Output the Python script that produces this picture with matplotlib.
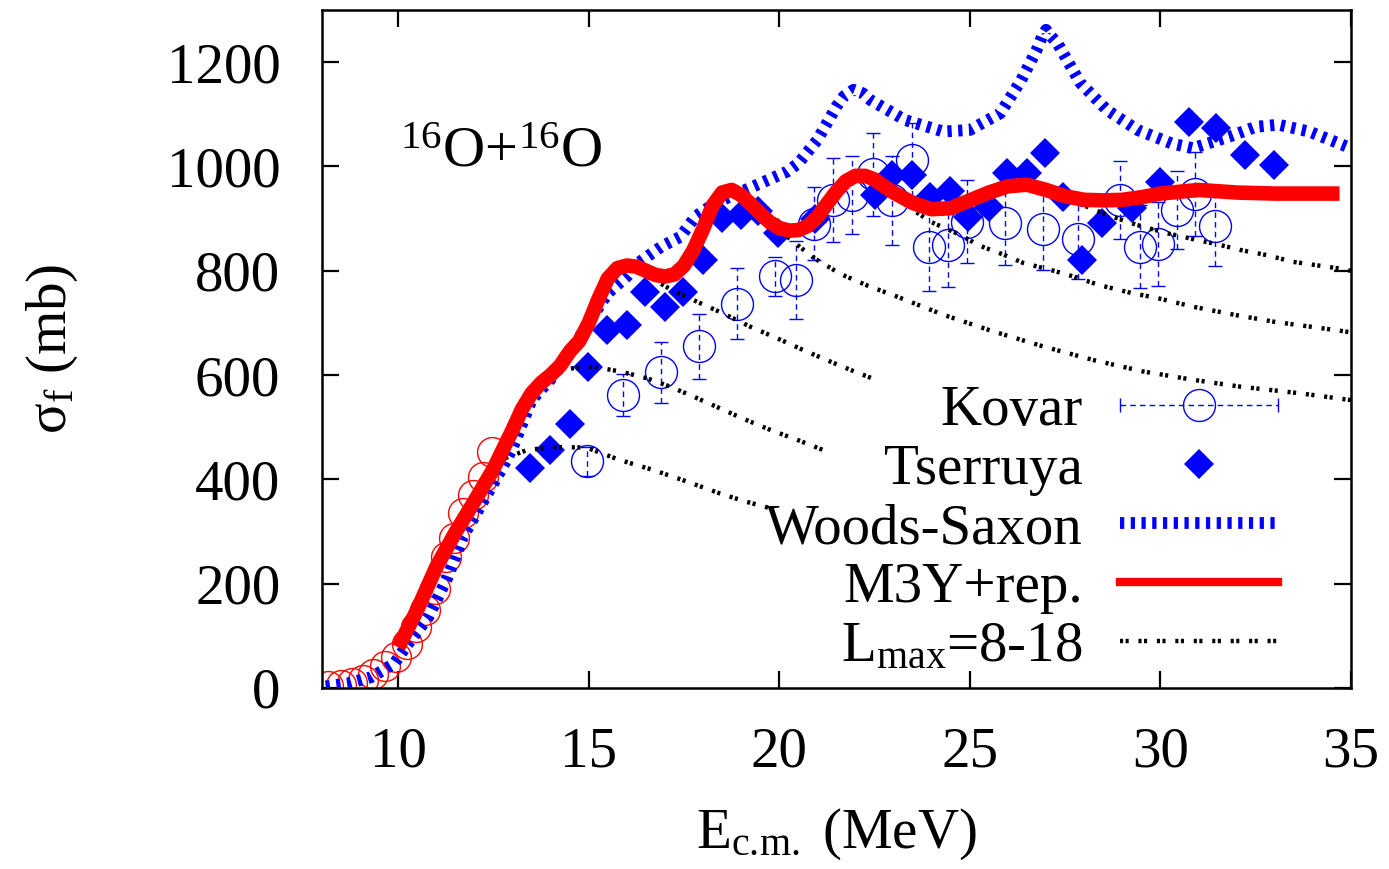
import numpy as np
import matplotlib
matplotlib.use('Agg')
import matplotlib.pyplot as plt
from matplotlib.lines import Line2D
from matplotlib.legend_handler import HandlerLine2D, HandlerTuple

plt.rcParams['font.family'] = ['Liberation Serif', 'DejaVu Serif']
plt.rcParams['mathtext.fontset'] = 'custom'
plt.rcParams['mathtext.rm'] = 'Liberation Serif'
plt.rcParams['mathtext.it'] = 'Liberation Serif:italic'

# --- low energy data (red open circles) ---
low_x = [8.15, 8.5, 8.8, 9.08, 9.35, 9.65, 9.95, 10.22, 10.48, 10.7, 10.96,
         11.25, 11.47, 11.71, 11.96, 12.22, 12.47]
low_y = [3, 6, 10, 15, 26, 42, 60, 85, 117, 149, 190, 252, 287, 336, 370, 405, 452]

# --- Kovar (open blue circles with errors) ---
kovar_x = [14.95, 15.9, 16.9, 17.9, 18.9, 19.9, 20.45, 20.9, 21.4, 21.9, 22.45,
           22.95, 23.47, 23.94, 24.44, 24.92, 25.92, 26.93, 27.85, 28.94, 29.47,
           29.95, 30.43, 30.91, 31.44]
kovar_y = [435, 562, 605, 655, 737, 789, 782, 890, 936, 945, 985,
           935, 1013, 846, 849, 894, 891, 881, 860, 936, 846,
           851, 917, 947, 885]
kovar_err = [28, 40, 58, 62, 68, 38, 75, 70, 80, 75, 80,
             85, 70, 85, 80, 80, 80, 80, 75, 75, 80,
             80, 75, 80, 75]

# --- Tserruya (filled diamonds) ---
tser_x = [13.46, 13.98, 14.51, 14.99, 15.47, 16.0, 16.48, 17.0, 17.48, 18.0,
          18.5, 19.0, 19.45, 19.97, 20.94, 22.5, 22.97, 23.47, 23.96, 24.48,
          24.96, 25.49, 25.97, 26.49, 26.97, 27.45, 27.94, 28.46, 29.25, 30.0,
          30.74, 31.46, 32.22, 32.97]
tser_y = [421, 456, 507, 616, 686, 696, 760, 731, 760, 821,
          901, 907, 914, 872, 900, 945, 983, 984, 942, 952,
          904, 923, 987, 987, 1025, 942, 821, 891, 920, 971,
          1086, 1073, 1022, 1003]

# --- Woods-Saxon ---
ws_x = [8.1, 8.7, 9.3, 9.9, 10.2, 10.8, 11.3, 11.7, 12.3, 12.7, 13.0, 13.5, 14.0,
        14.6, 15.1, 15.5, 16.0, 16.3, 16.9, 17.4, 17.8, 18.3, 19.3, 20.2, 20.5,
        21.0, 21.5, 21.7, 21.95, 22.2, 22.4, 23.3, 24.3, 25.0, 25.8, 26.35, 26.75,
        26.9, 27.0, 27.1, 27.3, 27.9, 28.6, 29.4, 30.3, 30.85, 31.8, 32.5, 33.1,
        33.9, 35.0]
ws_y = [3, 9, 21, 47, 79, 137, 213, 290, 367, 418, 460, 552, 592,
        654, 712, 757, 789, 815, 846, 865, 904, 929, 961, 990, 1006,
        1051, 1115, 1135, 1147, 1140, 1127, 1089, 1067, 1070, 1102, 1166, 1223,
        1250, 1262, 1252, 1236, 1160, 1108, 1070, 1044, 1035, 1057, 1076, 1080,
        1067, 1035]

# --- M3Y+rep. ---
m3y_x = [10.0, 10.5, 11.0, 11.5, 12.0, 12.5, 13.0, 13.25, 13.5, 13.75, 14.0, 14.25,
         14.5, 14.75, 15.0, 15.25, 15.5, 15.75, 16.0, 16.25, 16.5, 16.75, 17.0,
         17.25, 17.5, 17.75, 18.0, 18.25, 18.5, 18.75, 19.0, 19.25, 19.5, 19.75,
         20.0, 20.25, 20.5, 20.75, 21.0, 21.25, 21.5, 21.75, 22.0, 22.25, 22.5,
         22.75, 23.0, 23.5, 24.0, 24.5, 25.0, 25.5, 26.0, 26.5, 27.0, 27.5, 28.0,
         28.5, 29.0, 29.5, 30.0, 31.0, 32.0, 33.0, 34.0, 34.7]
m3y_y = [78, 150, 232, 298, 358, 420, 495, 535, 565, 585, 600, 618,
         645, 665, 700, 745, 785, 805, 810, 808, 800, 792, 789,
         793, 810, 840, 880, 925, 950, 955, 945, 928, 910, 893,
         882, 877, 878, 886, 903, 928, 952, 972, 982, 982, 975,
         962, 950, 930, 918, 920, 935, 950, 962, 965, 955, 943, 936,
         935, 936, 941, 948, 955, 950, 948, 948, 948]

# --- L_max = 8..18 curves ---
l8_x = [12.67, 13.37, 14.06, 14.94, 15.82, 16.69, 17.57, 18.44, 19.14, 19.9]
l8_y = [437, 456, 462, 461, 437, 418, 396, 373, 357, 342]
l10_x = [14.1, 14.42, 15.12, 15.82, 16.52, 17.13, 17.74, 18.36, 19.0, 19.76, 20.5, 21.3]
l10_y = [598, 612, 616, 607, 594, 578, 559, 539, 518, 495, 475, 452]
l12_x = [16.9, 17.13, 17.83, 18.53, 19.23, 19.93, 20.63, 21.3, 22.0, 22.5]
l12_y = [775, 765, 741, 718, 693, 671, 648, 627, 606, 592]
l14_x = [20.1, 20.5, 20.92, 21.6, 22.33, 23.07, 24.29, 25.6, 26.92, 28.23, 29.54,
         30.85, 32.07, 33.67, 35.0]
l14_y = [872, 848, 824, 794, 771, 751, 716, 684, 655, 629, 607, 591, 578, 565, 552]
l16_x = [23.6, 24.0, 24.74, 25.26, 25.88, 26.4, 27.2, 27.72, 28.42, 29.26, 29.9,
         30.86, 31.98, 33.0, 34.42, 35.0]
l16_y = [912, 893, 869, 848, 831, 815, 800, 789, 772, 757, 748, 731, 715, 702, 688, 682]
l18_x = [27.9, 28.6, 29.38, 30.17, 30.96, 31.48, 32.09, 32.79, 33.49, 34.63, 35.0]
l18_y = [928, 907, 888, 872, 859, 851, 840, 830, 817, 805, 800]
lmax_curves = [(l8_x, l8_y), (l10_x, l10_y), (l12_x, l12_y),
               (l14_x, l14_y), (l16_x, l16_y), (l18_x, l18_y)]

FS = 41
fig = plt.figure(figsize=(13.89, 8.69), dpi=100)
ax = fig.add_axes([0.2318, 0.2083, 0.7408, 0.7802])

dot_style = dict(color='black', lw=3.2, dashes=[0.7, 0.55, 0.7, 2.2],
                 dash_capstyle='butt')
ws_style = dict(color='blue', lw=8.5, dashes=[0.36, 0.55], dash_capstyle='butt')

ax.plot(low_x, low_y, 'o', mfc='none', mec='red', ms=21.5, mew=1.0, zorder=2)

eb = ax.errorbar(kovar_x, kovar_y, yerr=kovar_err, fmt='o', mfc='none', mec='blue',
                 ms=23, mew=1.0, ecolor='blue', elinewidth=1.0, capsize=4.7,
                 capthick=1.0, zorder=2)
eb[2][0].set_linestyle((0, (4, 3)))

ax.plot(tser_x, tser_y, 'D', color='blue', ms=15, mew=0, zorder=3)

for cx, cy in lmax_curves:
    ax.plot(cx, cy, zorder=4, **dot_style)

ax.plot(ws_x, ws_y, zorder=5, dash_joinstyle='round', **ws_style)
ax.plot(m3y_x, m3y_y, color='red', lw=10.5, solid_capstyle='butt',
        solid_joinstyle='round', zorder=6)

ax.set_xlim(8, 35)
ax.set_ylim(0, 1300)
ax.set_xticks([10, 15, 20, 25, 30, 35])
ax.set_yticks([0, 200, 400, 600, 800, 1000, 1200])
ax.tick_params(direction='in', length=12, width=1.6, labelsize=FS,
               top=True, right=True)
ax.tick_params(axis='y', pad=30)
ax.tick_params(axis='x', pad=28)
for s in ax.spines.values():
    s.set_linewidth(1.8)

ax.set_xlabel(r'E$_{\rm c.\!m.}$ (MeV)', fontsize=FS, labelpad=20)
ax.set_ylabel('σ$_{\\rm f}$ (mb)', fontsize=FS, labelpad=62)

ax.text(10.05, 1000, r'$^{16}$O+$^{16}$O', fontsize=42, va='baseline', ha='left')

# legend proxies
kov_line = Line2D([], [], color='blue', lw=1.0, ls=(0, (4, 3)), marker='|',
                  ms=10, mew=1.0)
kov_mark = Line2D([], [], ls='none', marker='o', mfc='none', mec='blue', ms=23, mew=1.0)
tser_h = Line2D([], [], ls='none', marker='D', color='blue', ms=15, mew=0)
ws_h = Line2D([], [], **ws_style)
m3y_h = Line2D([], [], color='red', lw=6)
lmax_h = Line2D([], [], **dot_style)

leg = ax.legend([(kov_line, kov_mark), tser_h, ws_h, m3y_h, lmax_h],
                ['Kovar', 'Tserruya', 'Woods-Saxon', 'M3Y+rep.', r'L$_{\rm max}$=8-18'],
                handler_map={kov_line: HandlerLine2D(numpoints=2, marker_pad=0),
                             tuple: HandlerTuple(ndivide=1, pad=0)},
                loc='upper right', bbox_to_anchor=(0.929, 0.447),
                frameon=False, fontsize=FS, markerfirst=False, numpoints=1,
                handlelength=2.78, handletextpad=0.65, labelspacing=0.125,
                borderpad=0, borderaxespad=0)

fig.savefig('out.png', dpi=100)
